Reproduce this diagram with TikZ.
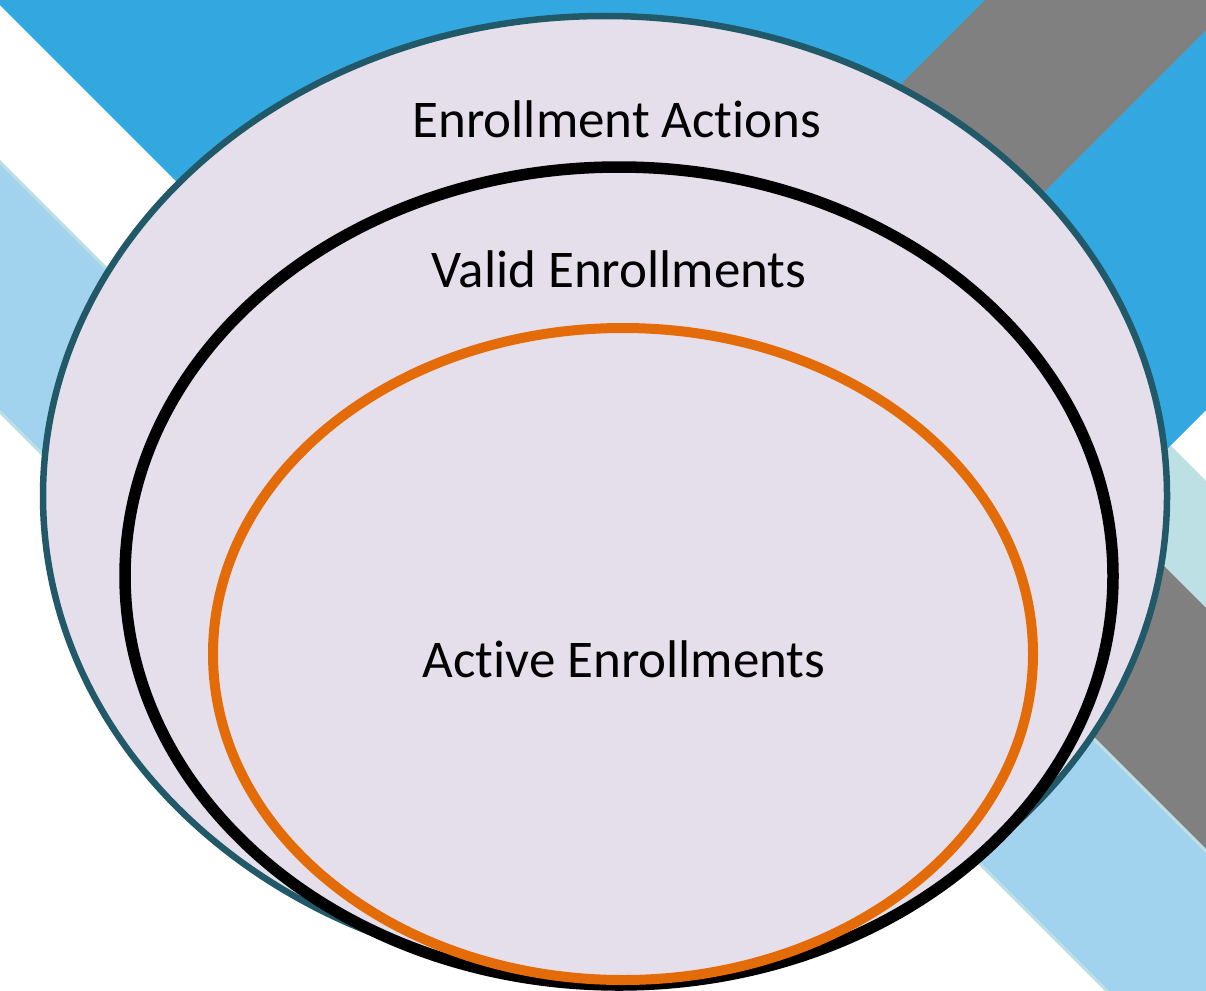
\documentclass[tikz,border=0pt]{standalone}
\usepackage{fontspec}
\setmainfont{Carlito}[Ligatures=NoCommon]
\definecolor{stripeblue}{HTML}{33A8E0}
\definecolor{stripegray}{HTML}{808080}
\definecolor{paleblue}{HTML}{A1D3EF}
\definecolor{paleteal}{HTML}{BDE0E5}
\definecolor{setfill}{HTML}{E5DFEC}
\definecolor{outerline}{HTML}{215968}
\definecolor{activeline}{HTML}{E36C09}
\newcommand{\setlabel}{\fontsize{53}{60}\selectfont}

\begin{document}
\begin{tikzpicture}[x=1pt, y=-1pt]
      \useasboundingbox (0, 0) rectangle (1206, 990);
      \begin{scope}
      \clip (0, 0) rectangle (1206, 990);
      % Backdrop stripes, lower right
      \fill[paleteal] (900, 175) -- (1500, 775) -- (1500, 902) -- (900, 302) -- cycle;
      \fill[stripegray] (900, 302) -- (1500, 902) -- (1500, 1145) -- (900, 545) -- cycle;
      \draw[paleteal, line width=3, fill=paleblue] (900, 545) -- (1500, 1145) -- (1500, 1384) -- (900, 784) -- cycle;
      % Backdrop stripes, left
      \draw[paleteal, line width=3, fill=paleblue] (-50, 112) -- (500, 662) -- (500, 912) -- (-50, 362) -- cycle;
      % Big blue corner
      \fill[stripeblue] (-5, 0) -- (1616, 0) -- (805, 811) -- cycle;
      \fill[stripegray] (985, 0) -- (1236, 0) -- (700, 536) -- (449, 536) -- cycle;
      \end{scope}

      % Sets
      \draw[outerline, line width=6.5, fill=setfill] (605, 496) ellipse [x radius=562pt, y radius=480pt];
      \draw[black, line width=11.5, fill=setfill] (619, 576) ellipse [x radius=494pt, y radius=409pt];
      \draw[activeline, line width=10, fill=setfill] (623, 654) ellipse [x radius=410pt, y radius=326pt];

      % Labels
      \node[anchor=base] (actions) at (617, 137) {\setlabel Enrollment Actions};
      \node[anchor=base] (valid) at (619, 287) {\setlabel Valid Enrollments};
      \node[anchor=base] (active) at (624, 677) {\setlabel Active Enrollments};
\end{tikzpicture}
\end{document}
